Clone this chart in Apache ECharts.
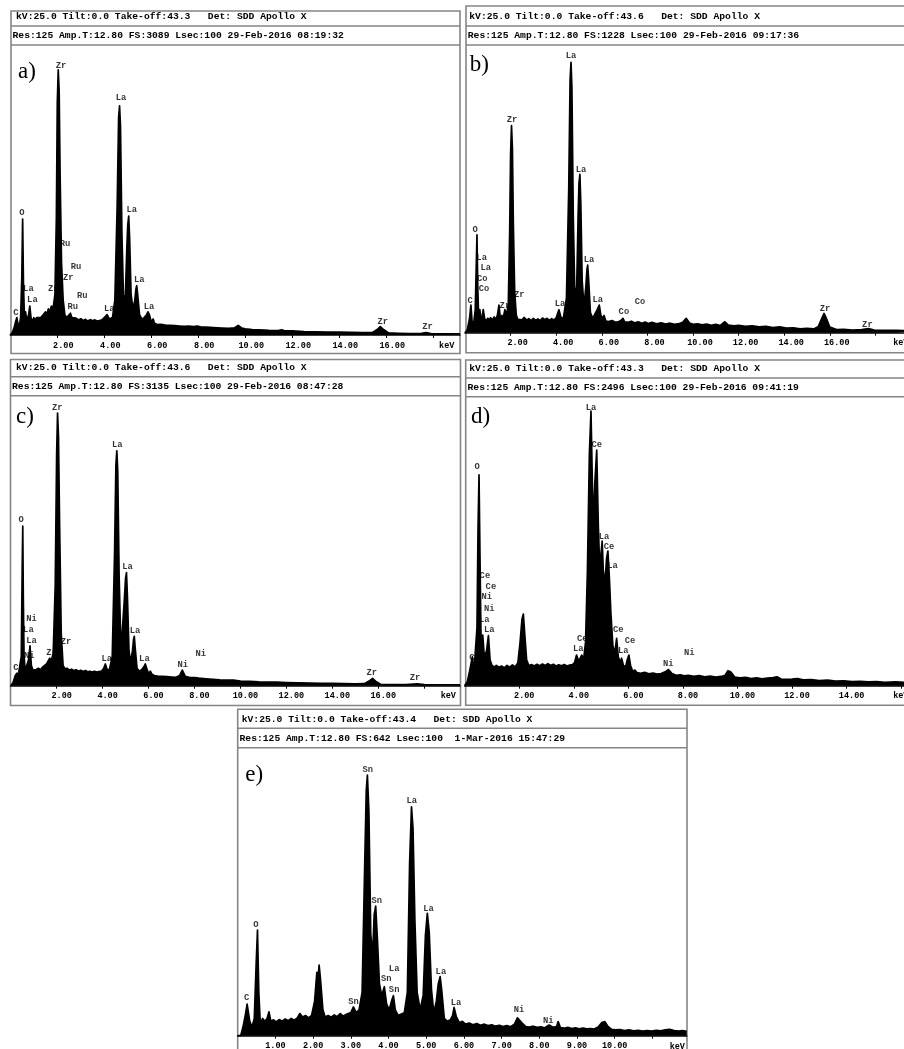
<!DOCTYPE html>
<html><head><meta charset="utf-8">
<script src="https://cdn.jsdelivr.net/npm/echarts@6/dist/echarts.min.js"></script>
<style>html,body{margin:0;padding:0;background:#fff}#c{width:904px;height:1049px}</style>
</head><body><div id="c"></div>
<script>
// ---- spectra: [keV, intensity in % of full scale] ----
const specA = [[0,0],[0.1,1],[0.18,3],[0.24,5],[0.28,6],[0.32,4],[0.38,3],[0.44,6],[0.49,20],[0.525,40],[0.56,18],[0.6,6],[0.65,8],[0.7,5],[0.78,7],[0.83,10],[0.88,6],[0.95,4.5],[1,6],[1.05,5],[1.12,6],[1.2,5.5],[1.3,6],[1.4,7],[1.45,6.5],[1.5,8],[1.55,7],[1.62,9],[1.68,8],[1.75,10],[1.82,9],[1.9,14],[1.96,40],[2,80],[2.04,91.4],[2.08,84],[2.12,55],[2.18,25],[2.25,12],[2.32,7],[2.4,6],[2.48,6.5],[2.56,7.5],[2.62,6],[2.7,5.5],[2.8,5.8],[2.9,5.2],[3,5.6],[3.1,5],[3.2,5.4],[3.3,4.8],[3.4,5.3],[3.5,4.9],[3.6,5.2],[3.7,4.8],[3.8,5],[3.9,5.2],[4,6],[4.12,7],[4.22,5.5],[4.35,6],[4.45,12],[4.55,45],[4.61,75],[4.65,79],[4.69,72],[4.75,35],[4.82,12],[4.9,14],[4.96,30],[5,38],[5.04,41],[5.08,33],[5.14,14],[5.22,9],[5.3,12],[5.35,16],[5.38,17],[5.42,14],[5.5,7],[5.6,5.5],[5.7,6],[5.8,7],[5.86,8],[5.92,7],[6,4.5],[6.08,5.5],[6.14,4],[6.25,3.6],[6.4,3.7],[6.6,3.4],[6.8,3.3],[7,3.2],[7.2,3.1],[7.4,3],[7.6,3.1],[7.8,2.9],[7.95,3.1],[8.1,2.8],[8.3,2.7],[8.5,2.6],[8.8,2.5],[9,2.4],[9.3,2.3],[9.55,2.5],[9.7,3.3],[9.85,2.4],[10,2.1],[10.3,1.9],[10.6,1.8],[11,1.6],[11.4,1.5],[11.55,1.8],[11.7,1.4],[12,1.4],[12.5,1.2],[13,1.1],[13.5,1],[14,1],[14.5,0.9],[15,0.8],[15.4,0.8],[15.6,1.8],[15.75,2.9],[15.9,1.8],[16.1,0.7],[16.5,0.6],[17,0.5],[17.5,0.6],[17.7,0.8],[17.9,0.5],[18.5,0.4],[19.14,0.4]];
const specB = [[0,0],[0.1,1],[0.2,5],[0.26,9.6],[0.31,4],[0.38,3],[0.45,8],[0.49,22],[0.525,34],[0.56,16],[0.6,5],[0.65,8],[0.7,4.5],[0.76,6],[0.8,8],[0.86,5],[0.92,4],[1,5],[1.06,4.3],[1.12,5.2],[1.2,4.4],[1.28,5.5],[1.35,4.6],[1.42,6],[1.49,9.6],[1.55,5],[1.62,6],[1.68,5.2],[1.75,8],[1.82,6],[1.9,10],[1.96,35],[2,62],[2.04,72],[2.08,64],[2.12,38],[2.18,14],[2.25,6],[2.32,4.6],[2.4,5.2],[2.5,4.5],[2.6,5.3],[2.7,4.4],[2.8,4.9],[2.9,4.2],[3,5],[3.1,4.3],[3.2,4.8],[3.3,4.2],[3.4,5.1],[3.5,4.5],[3.6,5],[3.7,4.3],[3.8,4.9],[3.9,4.4],[4,5.2],[4.12,8],[4.22,5],[4.32,5.3],[4.45,12],[4.55,50],[4.61,88],[4.65,94],[4.69,85],[4.75,40],[4.82,12],[4.9,16],[4.96,40],[5,52],[5.04,55],[5.08,45],[5.14,18],[5.22,9],[5.3,16],[5.35,22],[5.38,23.5],[5.42,19],[5.5,7],[5.6,5],[5.7,6.5],[5.8,8],[5.89,9.6],[5.96,6],[6.04,5],[6.1,6],[6.18,4],[6.3,3.9],[6.45,4.2],[6.6,3.6],[6.75,3.9],[6.85,4.3],[6.93,5],[7,3.8],[7.15,3.6],[7.3,4],[7.45,3.4],[7.6,3.8],[7.75,3.3],[7.9,3.7],[8.05,3.2],[8.2,3.6],[8.4,3.1],[8.6,3.4],[8.8,3],[9,3.3],[9.2,2.9],[9.4,3.2],[9.55,3.6],[9.7,5],[9.85,3.4],[10,2.9],[10.2,3.1],[10.4,2.7],[10.6,3],[10.8,2.6],[11,2.9],[11.2,2.5],[11.4,3.8],[11.55,2.6],[11.8,2.4],[12,2.6],[12.3,2.2],[12.6,2.4],[12.9,2],[13.2,2.2],[13.5,1.8],[13.8,2],[14.1,1.6],[14.4,1.7],[14.7,1.3],[15,1.5],[15.3,1.3],[15.5,2.2],[15.65,5],[15.75,6.7],[15.85,5],[16,2],[16.3,1.1],[16.6,1.2],[17,0.9],[17.4,1.1],[17.7,1.4],[17.95,0.9],[18.4,0.8],[18.9,0.8],[19.8,0.6]];
const specC = [[0,0],[0.1,1],[0.2,3.5],[0.27,4.3],[0.32,3],[0.4,3],[0.46,10],[0.5,40],[0.525,55],[0.55,30],[0.58,10.6],[0.62,6],[0.7,7],[0.78,9],[0.84,13.7],[0.9,7],[0.96,5.5],[1.02,6],[1.1,5.5],[1.2,6],[1.3,5.6],[1.4,6.5],[1.48,6],[1.56,7.5],[1.64,8],[1.7,9.5],[1.76,8.5],[1.85,11],[1.94,35],[2,80],[2.04,94],[2.08,86],[2.13,55],[2.2,18],[2.28,7],[2.36,5.8],[2.45,6],[2.55,5.4],[2.65,5.7],[2.75,5.2],[2.85,5.5],[2.95,5],[3.05,5.3],[3.15,4.9],[3.25,5.2],[3.35,4.8],[3.45,5],[3.55,4.7],[3.65,5],[3.75,4.7],[3.85,4.9],[3.95,5],[4.05,6],[4.12,7.5],[4.2,5.5],[4.3,5.6],[4.42,10],[4.52,45],[4.58,76],[4.62,81],[4.66,74],[4.72,38],[4.8,12],[4.88,12],[4.95,30],[5,37],[5.04,39],[5.08,31],[5.15,12],[5.22,8],[5.3,12],[5.35,16],[5.38,17],[5.42,13],[5.5,6],[5.6,5],[5.7,5.5],[5.8,6.5],[5.86,7.5],[5.92,6],[6,4.2],[6.08,5],[6.14,4],[6.25,3.5],[6.4,3.3],[6.6,3.2],[6.8,3.1],[7,3],[7.2,2.9],[7.35,3.5],[7.47,5.4],[7.6,3.2],[7.8,2.8],[8,2.8],[8.2,2.6],[8.5,2.4],[8.8,2.2],[9.1,2],[9.4,1.9],[9.7,1.9],[10,1.6],[10.4,1.5],[10.8,1.3],[11.2,1.2],[11.6,1.2],[12,1.1],[12.5,1],[13,0.9],[13.5,0.8],[14,0.8],[14.5,0.7],[15,0.6],[15.4,0.7],[15.6,1.6],[15.75,2.5],[15.9,1.5],[16.1,0.5],[16.6,0.4],[17.2,0.4],[17.7,0.6],[18,0.4],[19.56,0.3]];
const specD = [[0,0],[0.1,1.5],[0.2,6],[0.28,10],[0.34,5],[0.4,5],[0.45,20],[0.49,55],[0.525,73],[0.56,45],[0.6,15],[0.66,17.5],[0.72,10],[0.8,12],[0.87,17.3],[0.93,9],[1,7],[1.08,6.5],[1.16,7],[1.25,6.4],[1.35,6.8],[1.45,6.2],[1.55,7],[1.65,6.4],[1.75,7.2],[1.85,6.5],[1.95,8],[2.03,15],[2.1,23],[2.15,24.8],[2.2,18],[2.27,9],[2.35,7],[2.45,7.3],[2.55,6.8],[2.65,7.4],[2.75,6.9],[2.85,7.5],[2.95,7],[3.05,7.6],[3.15,7],[3.25,7.4],[3.35,6.8],[3.45,7.2],[3.55,6.9],[3.65,7.3],[3.75,6.8],[3.85,7.1],[3.95,7.3],[4.03,8],[4.1,10.6],[4.18,8.5],[4.29,10.6],[4.36,9],[4.43,15],[4.5,40],[4.57,80],[4.63,95],[4.68,70],[4.72,55],[4.77,70],[4.84,81.5],[4.9,55],[4.96,38],[5,46],[5.04,50],[5.08,40],[5.14,35],[5.2,44],[5.25,46.6],[5.3,38],[5.36,25],[5.43,14],[5.5,11],[5.57,16.4],[5.63,10],[5.7,8],[5.75,9.5],[5.82,7],[5.9,6.5],[5.96,9],[6.02,10.6],[6.08,7],[6.16,5],[6.24,5.4],[6.32,4.5],[6.45,4.3],[6.6,4.6],[6.75,4.1],[6.9,4.4],[7.05,4],[7.2,4.2],[7.35,4.8],[7.47,5.6],[7.6,4.2],[7.75,3.6],[7.9,3.8],[8.05,3.4],[8.2,3.6],[8.4,3.2],[8.6,3.5],[8.8,3.1],[9,3.3],[9.2,3],[9.4,3.2],[9.55,3.6],[9.65,5.2],[9.75,4.8],[9.9,3],[10.1,2.7],[10.3,2.9],[10.5,2.5],[10.7,2.7],[10.9,2.4],[11.1,2.6],[11.3,2.8],[11.45,3.1],[11.6,2.3],[11.8,2.2],[12,2.3],[12.2,2.5],[12.4,2],[12.7,2.1],[13,1.8],[13.3,1.9],[13.6,1.6],[13.9,1.7],[14.2,1.4],[14.5,1.5],[14.8,1.3],[15.1,1.4],[15.4,1.2],[15.8,1.3],[16.2,1.1],[16.6,1]];
const specE = [[0,0],[0.08,0],[0.14,3],[0.2,7],[0.25,11],[0.28,11.5],[0.32,5],[0.38,3],[0.44,6],[0.49,25],[0.525,36.7],[0.56,15],[0.6,4],[0.66,6],[0.72,5],[0.78,6],[0.83,8.3],[0.88,5],[0.95,5.5],[1.02,4.8],[1.1,5.6],[1.18,5],[1.26,5.8],[1.34,5.2],[1.42,6],[1.5,5.4],[1.58,6.2],[1.65,7.7],[1.72,6.5],[1.8,7],[1.88,6.2],[1.96,7],[2.04,12],[2.1,22],[2.13,20],[2.16,24.5],[2.2,19],[2.26,9],[2.32,6.5],[2.4,7],[2.48,6.4],[2.56,7.2],[2.64,6.6],[2.72,7.7],[2.8,6.8],[2.9,7.5],[3,8],[3.07,10],[3.14,8],[3.22,9],[3.3,15],[3.37,60],[3.41,85],[3.44,90.5],[3.48,78],[3.53,35],[3.58,28],[3.62,42],[3.66,45],[3.7,35],[3.76,18],[3.82,14],[3.89,17],[3.95,11],[4.02,9],[4.08,12],[4.13,13.9],[4.18,9],[4.26,7],[4.34,7.5],[4.42,8],[4.5,15],[4.56,60],[4.61,79.5],[4.65,72],[4.7,40],[4.76,15],[4.84,9],[4.92,14],[4.98,35],[5.03,42.5],[5.08,36],[5.14,16],[5.2,8],[5.27,12],[5.32,18],[5.37,20.5],[5.41,16],[5.48,6],[5.56,5],[5.64,5.5],[5.7,7],[5.74,9.8],[5.8,6.5],[5.88,4.5],[5.96,5],[6.04,4],[6.14,4.4],[6.24,3.8],[6.34,4.2],[6.44,3.6],[6.54,4],[6.64,3.5],[6.74,3.8],[6.84,3.3],[6.94,3.6],[7.04,3.2],[7.14,3.5],[7.24,3.1],[7.34,4],[7.42,6.2],[7.47,6.7],[7.54,4.5],[7.64,3.2],[7.74,3],[7.84,3.3],[7.94,2.9],[8.04,3.1],[8.14,2.7],[8.26,3.7],[8.36,2.9],[8.46,3.2],[8.5,4.9],[8.56,2.8],[8.66,2.6],[8.76,2.9],[8.86,2.5],[8.96,2.7],[9.06,2.4],[9.16,2.6],[9.26,2.4],[9.36,2.5],[9.46,2.3],[9.56,3],[9.66,4.6],[9.74,4.9],[9.82,3.2],[9.92,2.2],[10.02,2],[10.14,2.1],[10.26,1.8],[10.38,2],[10.5,1.7],[10.62,1.9],[10.74,1.6],[10.86,1.8],[10.98,1.6],[11.1,1.9],[11.22,1.7],[11.34,2],[11.46,2.2],[11.58,1.8],[11.7,1.6],[11.8,1.8],[11.91,1.5]];

// ---- peak labels: [keV, height %, element] ----
const labelsA = [[2.16,92.8,'Zr'],[4.71,81.7,'La'],[0.49,42.2,'O'],[5.17,43.1,'La'],[2.33,31.4,'Ru'],[2.8,23.6,'Ru'],[2.47,19.8,'Zr'],[0.77,16.1,'La'],[1.83,16.1,'Zr'],[0.94,12.1,'La'],[3.06,13.4,'Ru'],[2.66,9.6,'Ru'],[4.21,9.2,'La'],[5.49,19.0,'La'],[5.9,9.8,'La'],[0.24,7.5,'C'],[15.85,4.6,'Zr'],[17.76,2.7,'Zr']];
const labelsB = [[2.06,73.9,'Zr'],[4.65,96.2,'La'],[5.09,56.5,'La'],[0.44,35.7,'O'],[0.73,26.2,'La'],[0.91,22.5,'La'],[0.76,18.8,'Co'],[0.83,15.1,'Co'],[0.22,11,'C'],[1.75,9.4,'Zr'],[2.38,13.3,'Zr'],[4.17,9.9,'La'],[5.44,25.5,'La'],[5.82,11.6,'La'],[6.97,7.1,'Co'],[7.68,10.8,'Co'],[15.79,8.2,'Zr'],[17.65,2.9,'Zr']];
const labelsC = [[2.03,96,'Zr'],[4.64,83.2,'La'],[0.45,57.1,'O'],[5.09,41,'La'],[0.91,23,'Ni'],[0.77,19.2,'La'],[0.91,15.5,'La'],[0.81,10.3,'Ni'],[0.23,6.3,'C'],[1.78,11.4,'Zr'],[2.41,15.2,'Zr'],[4.18,9.2,'La'],[5.41,18.9,'La'],[5.82,9.4,'La'],[7.49,7.1,'Ni'],[8.27,10.9,'Ni'],[15.72,4.5,'Zr'],[17.6,2.6,'Zr']];
const labelsD = [[4.63,96.2,'La'],[4.84,83.3,'Ce'],[0.46,75.8,'O'],[5.11,51.5,'La'],[5.29,47.9,'Ce'],[5.42,41.5,'La'],[0.74,38.1,'Ce'],[0.96,34.3,'Ce'],[0.81,30.6,'Ni'],[0.9,26.5,'Ni'],[0.72,22.7,'La'],[0.9,19.3,'La'],[0.26,9.5,'C'],[4.31,16.2,'Ce'],[4.16,12.6,'La'],[5.63,19.3,'Ce'],[5.81,12,'La'],[6.06,15.6,'Ce'],[7.46,7.7,'Ni'],[8.23,11.4,'Ni']];
const labelsE = [[3.45,92.3,'Sn'],[4.62,81.5,'La'],[3.69,46.9,'Sn'],[5.06,44.2,'La'],[0.48,38.4,'O'],[4.15,23.4,'La'],[5.39,22.2,'La'],[3.94,19.7,'Sn'],[4.15,15.9,'Sn'],[3.07,11.8,'Sn'],[0.24,13.2,'C'],[5.79,11.6,'La'],[7.46,8.9,'Ni'],[8.24,5.1,'Ni']];

// ---- texts ----
const panelLetters = ['a)','b)','c)','d)','e)'];
const headerKV = [
  'kV:25.0 Tilt:0.0 Take-off:43.3   Det: SDD Apollo X',
  'kV:25.0 Tilt:0.0 Take-off:43.6   Det: SDD Apollo X',
  'kV:25.0 Tilt:0.0 Take-off:43.6   Det: SDD Apollo X',
  'kV:25.0 Tilt:0.0 Take-off:43.3   Det: SDD Apollo X',
  'kV:25.0 Tilt:0.0 Take-off:43.4   Det: SDD Apollo X'];
const headerRes = [
  'Res:125 Amp.T:12.80 FS:3089 Lsec:100 29-Feb-2016 08:19:32',
  'Res:125 Amp.T:12.80 FS:1228 Lsec:100 29-Feb-2016 09:17:36',
  'Res:125 Amp.T:12.80 FS:3135 Lsec:100 29-Feb-2016 08:47:28',
  'Res:125 Amp.T:12.80 FS:2496 Lsec:100 29-Feb-2016 09:41:19',
  'Res:125 Amp.T:12.80 FS:642 Lsec:100  1-Mar-2016 15:47:29'];
const axisUnit = 'keV';
const tickStep = [2,2,2,2,1];
const lastTickLabel = [16,16,16,14,10];
const axisMax = [19.14,19.8,19.56,16.6,11.91];

// ---- layout (pixels) ----
const panels = [
 {left:10.3, top:45, width:449.7, height:290, box:[11,11,460,353.5], rows:[26,45], kv:[16,16.7], res:[12.5,35.5], letter:[27,72], kev:[446.7,345.7], shift:12},
 {left:465, top:45, width:451.4, height:287.7, box:[466,6,916,352.7], rows:[26,45], kv:[469.3,16.2], res:[467.8,35.3], letter:[479.3,64.5], kev:[900.8,343.3], shift:14},
 {left:10.7, top:395.7, width:449.3, height:290, box:[10.5,359.5,460.5,705.5], rows:[376.7,395.7], kv:[16,367.7], res:[12,386.7], letter:[25,416.7], kev:[448.3,696], shift:10},
 {left:464.7, top:396.7, width:452.8, height:289, box:[465.7,360,918,705.3], rows:[378,396.7], kv:[469.3,369], res:[467.5,387.7], letter:[480.7,416.7], kev:[900.8,696], shift:10},
 {left:237.7, top:747.7, width:449, height:288, box:[237.7,709.3,687,1070], rows:[728.3,747.7], kv:[241.7,720], res:[239.5,738.3], letter:[254.3,775], kev:[677.3,1046.7], shift:0}
];

const specs = [specA,specB,specC,specD,specE];
const labels = [labelsA,labelsB,labelsC,labelsD,labelsE];
const MONO = '"Liberation Mono", "DejaVu Sans Mono", monospace';
const BORDER = '#858585';

const grid = [], xAxis = [], yAxis = [], series = [], graphic = [];
panels.forEach((p, i) => {
  grid.push({left:p.left, top:p.top, width:p.width, height:p.height, containLabel:false, outerBoundsMode:'none'});
  xAxis.push({
    type:'value', gridIndex:i, min:0, max:axisMax[i], interval:tickStep[i],
    axisLine:{show:true, onZero:false, lineStyle:{color:'#000', width:1.5}},
    axisTick:{show:true, length:3, lineStyle:{color:'#000', width:1}},
    splitLine:{show:false},
    axisLabel:{
      showMinLabel:false, showMaxLabel:false, margin:6,
      color:'#000', fontFamily:MONO, fontWeight:'bold', fontSize:8.5,
      padding:[0,0,0,p.shift],
      formatter: v => (v > lastTickLabel[i] + 1e-6 || v <= 0) ? '' : v.toFixed(2)
    }
  });
  yAxis.push({type:'value', gridIndex:i, min:0, max:100, show:false});
  series.push({
    type:'scatter', xAxisIndex:i, yAxisIndex:i, z:1, silent:true,
    symbol:'circle', symbolSize:1, itemStyle:{color:'rgba(0,0,0,0)'},
    data: labels[i].map(d => ({value:[d[0], d[1]], name:d[2]})),
    label:{show:true, position:'inside', formatter:'{b}', color:'#000',
      fontFamily:MONO, fontWeight:'bold', fontSize:8.8},
    labelLayout:{hideOverlap:false},
    animation:false
  });
  series.push({
    type:'line', xAxisIndex:i, yAxisIndex:i, z:3, silent:true,
    data: specs[i], showSymbol:false, symbol:'none', smooth:false,
    lineStyle:{color:'#000', width:1.7, join:'round'},
    areaStyle:{color:'#000', opacity:1},
    animation:false
  });
  const b = p.box;
  graphic.push({type:'rect', shape:{x:b[0], y:b[1], width:b[2]-b[0], height:b[3]-b[1]},
    style:{fill:'none', stroke:BORDER, lineWidth:1.6}, silent:true});
  p.rows.forEach(r => graphic.push({type:'line', shape:{x1:b[0], y1:r, x2:b[2], y2:r},
    style:{stroke:BORDER, lineWidth:1.4}, silent:true}));
  graphic.push({type:'text', x:p.kv[0], y:p.kv[1], style:{text:headerKV[i], fill:'#000',
    font:'bold 9.7px ' + MONO, textAlign:'left', textVerticalAlign:'middle'}});
  graphic.push({type:'text', x:p.res[0], y:p.res[1], style:{text:headerRes[i], fill:'#000',
    font:'bold 9.7px ' + MONO, textAlign:'left', textVerticalAlign:'middle'}});
  graphic.push({type:'text', x:p.letter[0], y:p.letter[1], style:{text:panelLetters[i], fill:'#000',
    font:'23px "Liberation Serif", "Times New Roman", serif', textAlign:'center', textVerticalAlign:'middle'}});
  graphic.push({type:'text', x:p.kev[0], y:p.kev[1], style:{text:axisUnit, fill:'#000',
    font:'bold 8.5px ' + MONO, textAlign:'center', textVerticalAlign:'middle'}});
});

const chart = echarts.init(document.getElementById('c'), null, {renderer:'canvas'});
chart.setOption({animation:false, backgroundColor:'#fff', grid, xAxis, yAxis, series, graphic});
</script>
</body></html>
